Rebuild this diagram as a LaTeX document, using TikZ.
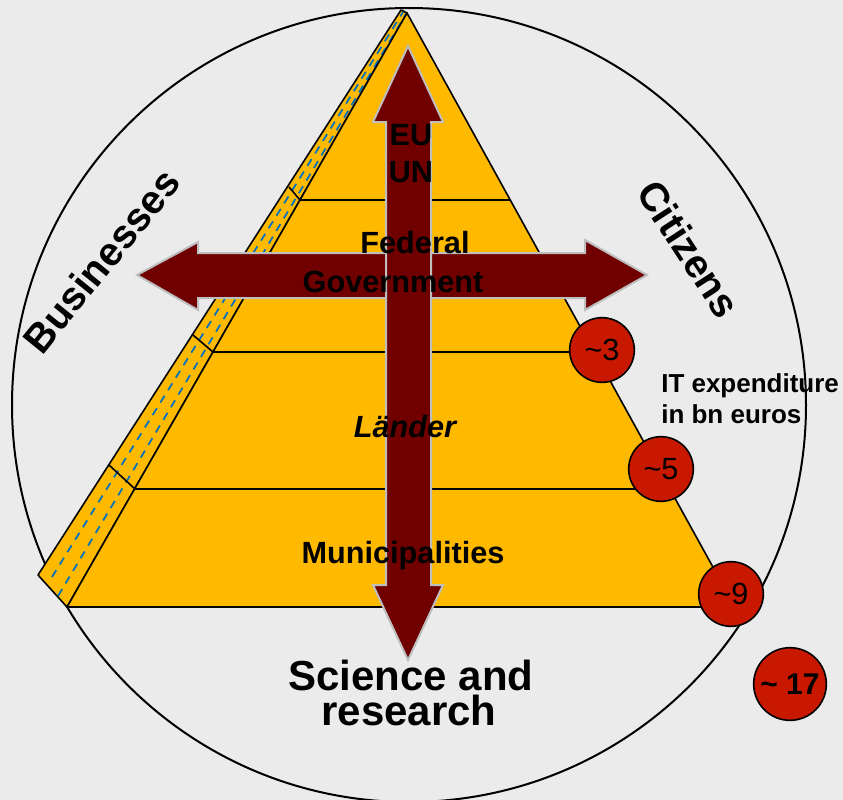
\documentclass[tikz,border=0pt]{standalone}
\usepackage{fontspec}
\setmainfont{Liberation Sans}
\usepackage{tikz}

\definecolor{bggray}{RGB}{235,235,235}
\definecolor{pyrorange}{RGB}{255,186,0}
\definecolor{arrowred}{RGB}{112,0,0}
\definecolor{arrowrim}{RGB}{190,190,190}
\definecolor{moneyred}{RGB}{200,24,0}
\definecolor{dashblue}{RGB}{0,112,192}

\begin{document}
\begin{tikzpicture}[x=0.75pt,y=0.75pt,yscale=-1,xscale=1,
  level/.style={line width=1.2pt},
  bigarrow/.style={fill=arrowred,draw=arrowrim,line width=1.5pt,line join=miter},
  lbl/.style={font=\bfseries\fontsize{23}{26}\selectfont,inner sep=0.75pt,anchor=base},
  side/.style={font=\bfseries\fontsize{30}{34}\selectfont,inner sep=0pt},
  money/.style={circle,fill=moneyred,draw=black,line width=1.2pt,minimum size=48.5pt,inner sep=0pt,font=\fontsize{23}{26}\selectfont}]
%uncomment if require: \path (0,800); %set diagram left start at 0, and has height of 800
\useasboundingbox (0,0) rectangle (843,800);
\fill [bggray] (0,0) rectangle (843,800);

%Shape: Circle [id:outer]
\draw [line width=1.5pt] (409,405) circle [radius=397];

%Shape: Polygon [id:strip]
\draw [level,fill=pyrorange,line join=round] (38,575) -- (67,607) -- (407,13) -- (401,10) -- cycle;
%Straight Lines [id:dashes]
\draw [dashblue,line width=1.3pt,dash pattern=on 6pt off 5pt] (52,577) -- (403,12);
\draw [dashblue,line width=1.3pt,dash pattern=on 6pt off 5pt] (58,596) -- (406,14);
%Straight Lines [id:strip levels]
\draw [level] (289,187) -- (300,200);
\draw [level] (193,335) -- (213,352);
\draw [level] (109,465) -- (135,489);

%Shape: Triangle [id:pyramid]
\draw [level,fill=pyrorange,line join=round] (67,607) -- (407,13) -- (735,607) -- cycle;
%Straight Lines [id:levels]
\draw [level] (300,200) -- (510,200);
\draw [level] (213,352) -- (594,352);
\draw [level] (135,489) -- (670,489);

%Shape: Double Arrow [id:across]
\draw [bigarrow] (137,275) -- (198,242) -- (198,253) -- (585,253) -- (585,240) -- (647,275) -- (585,310) -- (585,298) -- (198,298) -- (198,310) -- cycle;
%Shape: Double Arrow [id:updown]
\draw [bigarrow] (408,46) -- (443,122) -- (431,122) -- (431,585) -- (443,585) -- (408,660) -- (373,585) -- (386,585) -- (386,122) -- (373,122) -- cycle;

% Text Node
\draw (411,145) node [lbl] (eu) {EU};
% Text Node
\draw (411,182) node [lbl] (un) {UN};
% Text Node
\draw (415,253) node [lbl] (fed) {Federal};
% Text Node
\draw (393,292) node [lbl] (gov) {Government};
% Text Node
\draw (405,437) node [lbl,font=\bfseries\itshape\fontsize{23}{26}\selectfont] (laender) {Länder};
% Text Node
\draw (403,563) node [lbl] (muni) {Municipalities};
% Text Node
\draw (411,690) node [lbl,font=\bfseries\fontsize{31.5}{34}\selectfont] (sci) {Science and};
% Text Node
\draw (409,725) node [lbl,font=\bfseries\fontsize{31.5}{34}\selectfont] (res) {research};
% Text Node
\draw (101,261) node [side,rotate=51] (biz) {Businesses};
% Text Node
\draw (689,249) node [side,rotate=-57] (cit) {Citizens};
% Text Node
\draw (660,392) node [lbl,anchor=base west,font=\bfseries\fontsize{19.5}{22}\selectfont] (it) {IT expenditure};
% Text Node
\draw (660,423) node [lbl,anchor=base west,font=\bfseries\fontsize{19.5}{22}\selectfont] (bn) {in bn euros};

%Shape: Circle [id:money]
\node [money] (m3) at (602,350) {\textasciitilde 3};
\node [money] (m5) at (661,469) {\textasciitilde 5};
\node [money] (m9) at (731,594) {\textasciitilde 9};
\node [money,minimum size=54.5pt,font=\bfseries\fontsize{22.5}{26}\selectfont] (m17) at (790,684) {\textasciitilde{} 17};

\end{tikzpicture}
\end{document}
